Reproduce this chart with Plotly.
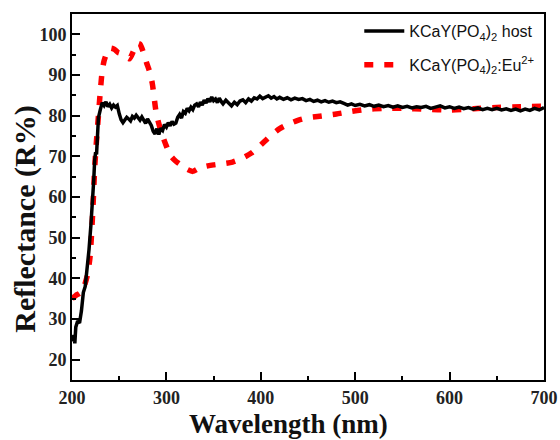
import plotly.graph_objects as go

# Diffuse reflectance spectra: undoped host and Eu2+-doped sample
host_wl = [200, 202, 203, 204, 206, 208, 210, 212, 214, 216, 218, 220, 222, 223, 224, 225, 226, 227, 228,
           230, 232, 234, 236, 238, 240, 242, 244, 246, 248, 250, 252, 254, 256, 258, 260, 262, 264, 266,
           268, 270, 272, 274, 276, 278, 280, 282, 284, 286, 288, 290, 292, 294, 296, 298, 300, 302, 304,
           306, 308, 310, 312, 314, 316, 318, 320, 322, 324, 326, 328, 330, 332, 334, 336, 338, 340, 342,
           344, 346, 348, 350, 352, 354, 356, 358, 360, 363, 366, 369, 372, 375, 378, 381, 384, 387, 390,
           393, 396, 399, 402, 405, 408, 411, 414, 417, 420, 424, 428, 432, 436, 440, 444, 448, 452, 456,
           460, 464, 468, 472, 476, 480, 484, 488, 492, 496, 500, 505, 510, 515, 520, 525, 530, 535, 540,
           545, 550, 555, 560, 565, 570, 575, 580, 585, 590, 595, 600, 605, 610, 615, 620, 625, 630, 635,
           640, 645, 650, 655, 660, 665, 670, 675, 680, 685, 690, 695, 700]
host_r = [24.5, 26.0, 24.0, 28.0, 29.5, 29.0, 32.0, 36.5, 38.0, 42.0, 47.0, 53.0, 59.0, 64.0, 69.0, 71.0,
          70.5, 76.0, 79.5, 81.5, 83.2, 82.5, 83.4, 82.2, 82.8, 81.9, 82.6, 82.1, 82.5, 80.5, 79.0, 78.3,
          78.9, 79.6, 79.2, 78.7, 79.8, 79.4, 80.1, 79.3, 78.9, 79.7, 78.8, 78.1, 79.2, 78.4, 77.6, 76.2,
          75.5, 76.8, 75.4, 76.9, 76.4, 77.8, 77.2, 78.3, 77.5, 78.6, 77.9, 78.2, 79.6, 80.3, 79.4, 81.0,
          80.6, 81.8, 81.2, 82.1, 81.5, 82.6, 82.9, 82.2, 83.3, 82.6, 83.8, 83.1, 84.2, 83.4, 84.6, 83.7,
          84.1, 83.2, 84.3, 83.5, 82.9, 83.8, 83.1, 82.4, 83.3, 82.7, 83.6, 83.9, 83.2, 84.1, 83.6, 84.4,
          84.1, 84.8, 84.2, 84.6, 84.9, 84.3, 84.7, 84.1, 84.5, 84.0, 84.4, 83.9, 84.3, 84.0, 84.2, 83.7,
          84.0, 83.5, 83.8, 83.4, 83.7, 83.3, 83.6, 83.2, 83.4, 83.0, 82.6, 82.9, 82.5, 82.8, 82.4, 82.7,
          82.3, 82.6, 82.2, 82.5, 82.1, 82.4, 82.0, 82.3, 81.9, 82.2, 82.0, 82.3, 81.8, 82.1, 82.4, 81.9,
          82.2, 81.8, 82.1, 81.7, 82.0, 81.6, 81.9, 81.5, 81.8, 81.5, 81.8, 81.4, 81.7, 81.3, 81.6, 81.2,
          81.6, 81.3, 81.8, 81.4, 82.0]

eu_wl = [200, 204, 208, 212, 216, 219, 221, 222.5, 224, 226, 228, 230, 232, 234, 237, 241, 245, 249, 253,
         257, 261, 265, 269, 272, 276, 279, 282, 285, 289, 292, 296, 300, 305, 310, 316, 322, 328, 334, 341,
         350, 360, 370, 380, 390, 400, 410, 420, 430, 440, 450, 460, 470, 480, 495, 510, 530, 550, 575, 600,
         625, 650, 675, 700]
eu_r = [35.0, 35.8, 36.3, 37.5, 40.5, 45.0, 52.0, 59.0, 67.0, 74.0, 80.0, 86.0, 91.0, 93.5, 95.5, 96.6,
        96.3, 95.5, 95.2, 94.6, 94.0, 95.8, 97.8, 97.6, 95.3, 93.0, 91.0, 88.0, 81.0, 78.0, 75.0, 72.5,
        70.0, 68.8, 67.8, 66.8, 66.3, 67.0, 67.5, 67.9, 68.2, 68.6, 69.5, 70.8, 72.8, 75.0, 76.8, 78.0,
        78.9, 79.5, 79.8, 80.1, 80.4, 81.0, 81.5, 81.8, 81.8, 81.6, 81.4, 81.7, 82.0, 82.2, 82.3]

host_name = "KCaY(PO<sub>4</sub>)<sub>2</sub> host"
eu_name = "KCaY(PO<sub>4</sub>)<sub>2</sub>:Eu<sup>2+</sup>"

x_ticks = [200, 300, 400, 500, 600, 700]
y_ticks = [20, 30, 40, 50, 60, 70, 80, 90, 100]

SERIF = "Liberation Serif, Times New Roman, serif"
SANS = "Liberation Sans, Arial, sans-serif"

fig = go.Figure()
fig.add_trace(go.Scatter(
    x=eu_wl, y=eu_r, mode="lines", name=eu_name, legendgroup="eu", legendrank=2,
    line=dict(color="#ff0000", width=5.5, dash="9px,11px", shape="spline", smoothing=0.6),
))
fig.add_trace(go.Scatter(
    x=host_wl, y=host_r, mode="lines", name=host_name, legendgroup="host", legendrank=1,
    line=dict(color="#000000", width=3.5),
))

axis_common = dict(
    showline=True, linecolor="black", linewidth=2, mirror=True,
    ticks="inside", ticklen=8, tickwidth=2, tickcolor="black",
    showgrid=False, zeroline=False, automargin=False,
    tickfont=dict(family=SERIF, size=18, color="#222", weight="bold"),
)

fig.update_xaxes(
    range=[200, 700], tickmode="array", tickvals=x_ticks, ticktext=[str(v) for v in x_ticks],
    minor=dict(dtick=50, ticks="inside", ticklen=4, tickwidth=2, tickcolor="black", showgrid=False),
    **axis_common,
)
fig.update_yaxes(
    range=[15, 105], tickmode="array", tickvals=y_ticks, ticktext=[str(v) for v in y_ticks],
    minor=dict(tick0=15, dtick=10, ticks="inside", ticklen=4, tickwidth=2, tickcolor="black", showgrid=False),
    **axis_common,
)

# Axis titles
fig.add_annotation(
    text="Wavelength (nm)", xref="paper", yref="paper", x=0.458, y=-0.074,
    xanchor="center", yanchor="top", showarrow=False,
    font=dict(family=SERIF, size=27, color="#111", weight="bold"),
)
fig.add_annotation(
    text="Reflectance (R%)", xref="paper", yref="paper", x=-0.10, y=0.44,
    xanchor="center", yanchor="middle", showarrow=False, textangle=-90,
    font=dict(family=SERIF, size=30, color="#111", weight="bold"),
)

fig.update_layout(
    width=560, height=440,
    margin=dict(l=72, r=16, t=14, b=60, autoexpand=False),
    paper_bgcolor="white", plot_bgcolor="white",
    showlegend=True,
    legend=dict(
        x=0.99, y=1.0, xanchor="right", yanchor="top",
        bgcolor="rgba(0,0,0,0)", borderwidth=0,
        font=dict(family=SANS, size=16, color="#111"),
        tracegroupgap=10, itemwidth=40,
    ),
)

fig.write_html("out.html")
